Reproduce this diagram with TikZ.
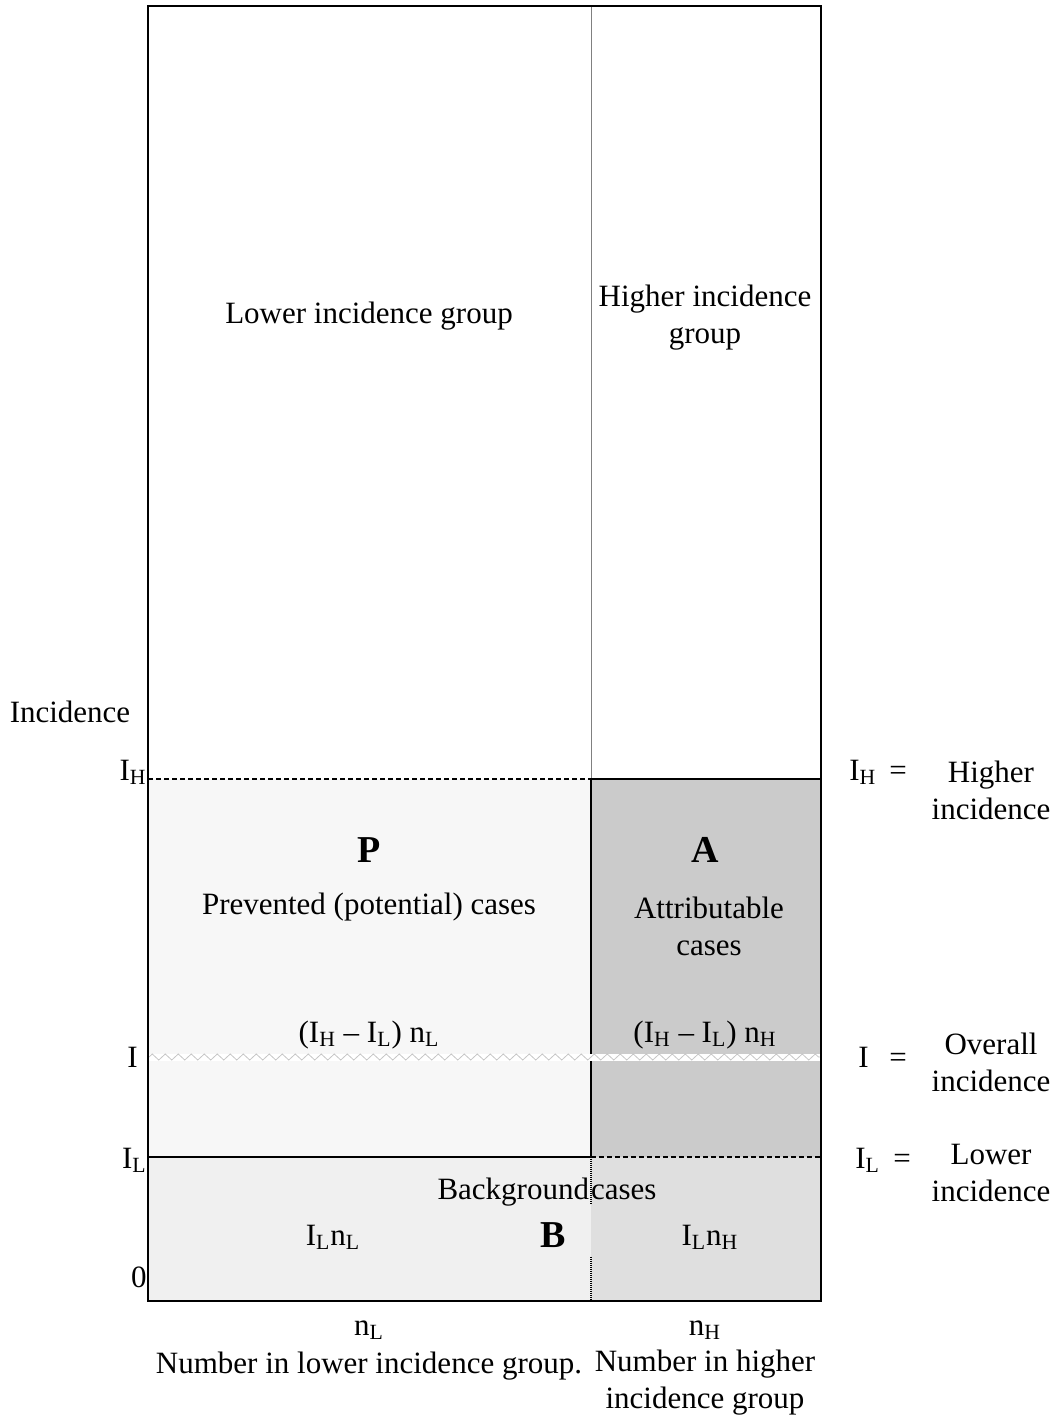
\documentclass[tikz,border=0pt]{standalone}
\usepackage{fontspec}
\setmainfont{Liberation Serif}
\usetikzlibrary{decorations.pathmorphing}
\definecolor{pfill}{HTML}{F7F7F7}
\definecolor{afill}{HTML}{CBCBCB}
\definecolor{blfill}{HTML}{F0F0F0}
\definecolor{brfill}{HTML}{DFDFDF}
\begin{document}
\begin{tikzpicture}[x=0.5pt,y=-0.5pt,
  lbl/.style={font=\fontsize{15.5}{18.5}\selectfont, inner sep=0pt, align=center},
  big/.style={font=\fontsize{19}{22}\selectfont\bfseries, inner sep=0pt},
  frame/.style={line width=1.3pt},
  edge/.style={line width=1.1pt},
  dashline/.style={line width=0.8pt, dash pattern=on 2.5pt off 1.5pt},
  dotline/.style={line width=0.8pt, dash pattern=on 0.5pt off 0.5pt},
  waveline/.style={gray!45, line width=0.4pt, decorate,
    decoration={zigzag, segment length=6.5pt, amplitude=1.5pt}}]
\useasboundingbox (0,0) rectangle (1057,1418);

% corners and levels
\coordinate (tl) at (148,6);
\coordinate (br) at (821,1301);
\coordinate (mtop) at (591,6);
\coordinate (hl) at (148,779);
\coordinate (hm) at (591,779);
\coordinate (hr) at (821,779);
\coordinate (il) at (149,1057);
\coordinate (ir) at (820,1057);
\coordinate (ml) at (148,1157);
\coordinate (mm) at (591,1157);
\coordinate (mr) at (821,1157);
\coordinate (mb) at (591,1301);

% shaded areas
\fill[pfill] (hl) rectangle (mm);
\fill[afill] (hm) rectangle (mr);
\fill[blfill] (ml) rectangle (mb);
\fill[brfill] (mm) rectangle (br);

% overall incidence band
\fill[white] (149,1053.5) rectangle (820,1061);
\draw[waveline] (il) -- (ir);

% dividing lines
\draw[gray, line width=0.5pt] (mtop) -- (hm);
\draw[dashline] (hl) -- (hm);
\draw[edge] (591,1053.5) -- (hm) -- (hr);
\draw[edge] (591,1061) -- (mm);
\draw[edge] (ml) -- (mm);
\draw[dashline] (mm) -- (mr);
\draw[dotline] (mm) -- (591,1205);
\draw[dotline] (591,1257) -- (mb);
\draw[frame] (tl) rectangle (br);

% area labels
\node[lbl] (lowgrp) at (369,316) {Lower incidence group};
\node[lbl] (highgrp) at (705,318) {Higher incidence\\group};
\node[big] (plab) at (369,850) {P};
\node[big] (alab) at (705,850) {A};
\node[lbl] (prev) at (369,907) {Prevented (potential) cases};
\node[lbl] (attr) at (709,926) {Attributable\\cases};
\node[lbl] (pform) at (369,1035) {(I\textsubscript{H} – I\textsubscript{L}) n\textsubscript{L}};
\node[lbl] (aform) at (705,1035) {(I\textsubscript{H} – I\textsubscript{L}) n\textsubscript{H}};
\node[lbl] (backg) at (547,1192) {Background\hspace{1pt}cases};
\node[lbl] (bl) at (333,1237) {I\textsubscript{L}n\textsubscript{L}};
\node[big] (blab) at (553,1235) {B};
\node[lbl] (bh) at (710,1237) {I\textsubscript{L}n\textsubscript{H}};

% incidence axis
\node[lbl] (axis) at (70,712) {Incidence};
\node[lbl, anchor=base east] (yh) at (147,780) {I\textsubscript{H}};
\node[lbl, anchor=base east] (yi) at (138,1067) {I};
\node[lbl, anchor=base east] (yl) at (147,1168) {I\textsubscript{L}};
\node[lbl, anchor=base east] (y0) at (147,1287) {0};

% group size axis
\node[lbl] (nl) at (369,1330) {n\textsubscript{L}};
\node[lbl] (nh) at (705,1330) {n\textsubscript{H}};
\node[lbl] (nltext) at (369,1366) {Number in lower incidence group.};
\node[lbl] (nhtext) at (705,1383) {Number in higher\\incidence group};

% legend
\node[lbl, anchor=base west] (kh) at (849,780) {I\textsubscript{H}};
\node[lbl, anchor=base] (kheq) at (898,780) {=};
\node[lbl] (khtext) at (991,790) {Higher\\incidence};
\node[lbl, anchor=base west] (ki) at (858,1067) {I};
\node[lbl, anchor=base] (kieq) at (898,1067) {=};
\node[lbl] (kitext) at (991,1062) {Overall\\incidence};
\node[lbl, anchor=base west] (kl) at (855,1168) {I\textsubscript{L}};
\node[lbl, anchor=base] (kleq) at (902,1168) {=};
\node[lbl] (kltext) at (991,1173) {Lower\\incidence};
\end{tikzpicture}
\end{document}
